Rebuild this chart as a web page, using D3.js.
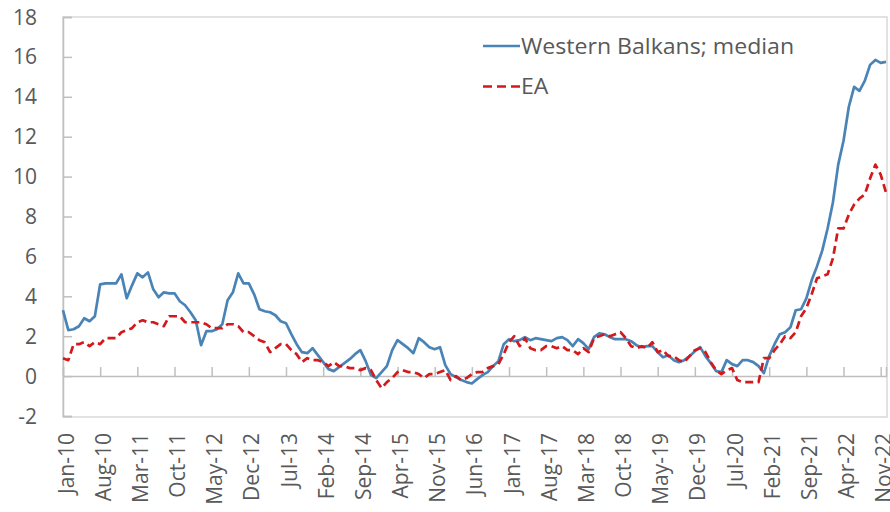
<!DOCTYPE html>
<html>
<head>
<meta charset="utf-8">
<script src="https://cdn.jsdelivr.net/npm/d3@7"></script>
<style>
  body { margin: 0; background: #fff; }
  svg text { font-family: "Open Sans", sans-serif; fill: #595959; }
</style>
</head>
<body>
<svg id="chart" width="890" height="512"></svg>
<script>
// Monthly categories, Jan-10 .. Dec-22.
var fmt = d3.utcFormat("%b-%y");
var months = d3.utcMonth.range(new Date(Date.UTC(2010, 0, 1)), new Date(Date.UTC(2023, 0, 1))).map(fmt);

// Labelled categories (every 7th month).
var tickLabels = ["Jan-10", "Aug-10", "Mar-11", "Oct-11", "May-12", "Dec-12", "Jul-13", "Feb-14",
    "Sep-14", "Apr-15", "Nov-15", "Jun-16", "Jan-17", "Aug-17", "Mar-18", "Oct-18", "May-19",
    "Dec-19", "Jul-20", "Feb-21", "Sep-21", "Apr-22", "Nov-22"];

var yTicks = [-2, 0, 2, 4, 6, 8, 10, 12, 14, 16, 18];

// Western Balkans; median (y/y, %)
var wb = [
    3.3, 2.3, 2.35, 2.5, 2.9, 2.75, 3.0, 4.6, 4.65, 4.65, 4.65, 5.1,
    3.9, 4.55, 5.15, 4.95, 5.2, 4.35, 3.95, 4.2, 4.15, 4.15, 3.75, 3.55,
    3.2, 2.8, 1.55, 2.25, 2.25, 2.35, 2.6, 3.8, 4.2, 5.15, 4.65, 4.65,
    4.1, 3.35, 3.25, 3.2, 3.05, 2.75, 2.65, 2.1, 1.6, 1.2, 1.15, 1.4,
    1.05, 0.7, 0.35, 0.25, 0.45, 0.65, 0.85, 1.1, 1.3, 0.75, 0.05, -0.1,
    0.2, 0.5, 1.3, 1.8, 1.6, 1.4, 1.15, 1.9, 1.7, 1.45, 1.35, 1.45,
    0.55, 0.1, -0.05, -0.2, -0.3, -0.37, -0.15, 0.05, 0.2, 0.5, 0.75, 1.6,
    1.85, 1.75, 1.8, 1.95, 1.8, 1.9, 1.85, 1.8, 1.75, 1.9, 1.95, 1.8,
    1.5, 1.85, 1.65, 1.35, 1.95, 2.15, 2.1, 1.95, 1.85, 1.85, 1.85, 1.75,
    1.55, 1.45, 1.5, 1.5, 1.2, 0.95, 1.05, 0.8, 0.7, 0.8, 1.0, 1.25,
    1.45, 1.0, 0.65, 0.25, 0.2, 0.8, 0.6, 0.5, 0.8, 0.8, 0.7, 0.5,
    0.15, 1.0, 1.6, 2.1, 2.2, 2.45, 3.3, 3.35, 3.9, 4.8, 5.5, 6.3,
    7.4, 8.7, 10.6, 11.8, 13.5, 14.5, 14.3, 14.8, 15.6, 15.85, 15.7, 15.75
];

// EA (y/y, %)
var ea = [
    0.9, 0.8, 1.6, 1.6, 1.7, 1.5, 1.7, 1.6, 1.9, 1.9, 1.9, 2.2,
    2.3, 2.4, 2.7, 2.8, 2.7, 2.7, 2.6, 2.5, 3.0, 3.0, 3.0, 2.7,
    2.7, 2.7, 2.7, 2.6, 2.4, 2.4, 2.4, 2.6, 2.6, 2.5, 2.2, 2.2,
    2.0, 1.8, 1.7, 1.2, 1.4, 1.6, 1.6, 1.3, 1.1, 0.7, 0.9, 0.8,
    0.8, 0.7, 0.5, 0.7, 0.5, 0.5, 0.4, 0.4, 0.3, 0.4, 0.3, -0.2,
    -0.6, -0.3, -0.1, 0.2, 0.3, 0.2, 0.2, 0.1, -0.1, 0.1, 0.1, 0.2,
    0.3, -0.2, 0.0, -0.2, -0.1, 0.1, 0.2, 0.2, 0.4, 0.5, 0.6, 1.1,
    1.7, 2.0, 1.5, 1.9, 1.4, 1.3, 1.3, 1.5, 1.5, 1.4, 1.5, 1.3,
    1.3, 1.1, 1.4, 1.2, 1.9, 2.0, 2.1, 2.0, 2.1, 2.2, 1.9, 1.5,
    1.4, 1.5, 1.4, 1.7, 1.2, 1.3, 1.0, 1.0, 0.8, 0.7, 1.0, 1.3,
    1.4, 1.2, 0.7, 0.3, 0.1, 0.3, 0.4, -0.2, -0.3, -0.3, -0.3, -0.3,
    0.9, 0.9, 1.3, 1.6, 2.0, 1.9, 2.2, 3.0, 3.4, 4.1, 4.9, 5.0,
    5.1, 5.9, 7.4, 7.4, 8.1, 8.6, 8.9, 9.1, 9.9, 10.6, 10.1, 9.2
];

var series = [
    { name: "Western Balkans; median", values: wb, color: "#4a84b6", dash: null },
    { name: "EA", values: ea, color: "#d2191c", dash: "8,4.5" }
];

var svg = d3.select("#chart");
var plotLeft = 63, plotRight = 887, plotTop = 17, plotBottom = 416;

var x = d3.scalePoint().domain(months).range([plotLeft, plotRight - 1]);
var y = d3.scaleLinear().domain([-2, 18]).range([plotBottom, plotTop]);

// Plot area border.
svg.append("rect")
    .attr("x", plotLeft).attr("y", plotTop)
    .attr("width", plotRight - plotLeft).attr("height", plotBottom - plotTop + 1)
    .attr("fill", "none").attr("stroke", "#d9d9d9").attr("stroke-width", 1.5);

// Y axis with inward ticks.
var yAxis = svg.append("g")
    .attr("transform", "translate(" + plotLeft + ",0)")
    .call(d3.axisRight(y).tickValues(yTicks).tickSize(9).tickFormat(""));
yAxis.select(".domain").attr("stroke", "#bfbfbf").attr("stroke-width", 1.5);
yAxis.selectAll(".tick line").attr("stroke", "#bfbfbf").attr("stroke-width", 1.5);

svg.append("g").selectAll("text")
    .data(yTicks)
    .join("text")
    .attr("x", 37)
    .attr("y", function (d) { return y(d); })
    .attr("dy", "0.36em")
    .attr("text-anchor", "end")
    .style("font-size", "21px")
    .text(function (d) { return d; });

// X axis on the zero line, ticks pointing up.
var xAxis = svg.append("g")
    .attr("transform", "translate(0," + y(0) + ")")
    .call(d3.axisTop(x).tickValues(tickLabels).tickSize(9).tickFormat(""));
xAxis.select(".domain").attr("stroke", "#bfbfbf").attr("stroke-width", 1.5);
xAxis.selectAll(".tick line").attr("stroke", "#bfbfbf").attr("stroke-width", 1.5);

// Rotated category labels under the plot.
svg.append("g").selectAll("text")
    .data(tickLabels)
    .join("text")
    .attr("transform", function (d) { return "translate(" + (x(d) + 3) + "," + (plotBottom + 17) + ") rotate(-90)"; })
    .attr("dy", "0.36em")
    .attr("text-anchor", "end")
    .style("font-size", "21px")
    .text(function (d) { return d; });

// Lines.
var line = d3.line()
    .x(function (d, i) { return x(months[i]); })
    .y(function (d) { return y(d); });

svg.append("g").selectAll("path")
    .data(series)
    .join("path")
    .attr("d", function (s) { return line(s.values); })
    .attr("fill", "none")
    .attr("stroke", function (s) { return s.color; })
    .attr("stroke-width", 2.7)
    .attr("stroke-linejoin", "round")
    .attr("stroke-dasharray", function (s) { return s.dash; });

// Legend.
var legend = svg.append("g").selectAll("g")
    .data(series)
    .join("g")
    .attr("transform", function (s, i) { return "translate(483," + (46 + i * 40.5) + ")"; });

legend.append("line")
    .attr("x1", 0).attr("x2", 37)
    .attr("stroke", function (s) { return s.color; })
    .attr("stroke-width", 2.7)
    .attr("stroke-dasharray", function (s) { return s.dash ? "9,5" : null; });

legend.append("text")
    .attr("transform", "translate(38,0) scale(1.1,1)")
    .attr("dy", "0.36em")
    .style("font-size", "21px")
    .text(function (s) { return s.name; });
</script>
</body>
</html>
